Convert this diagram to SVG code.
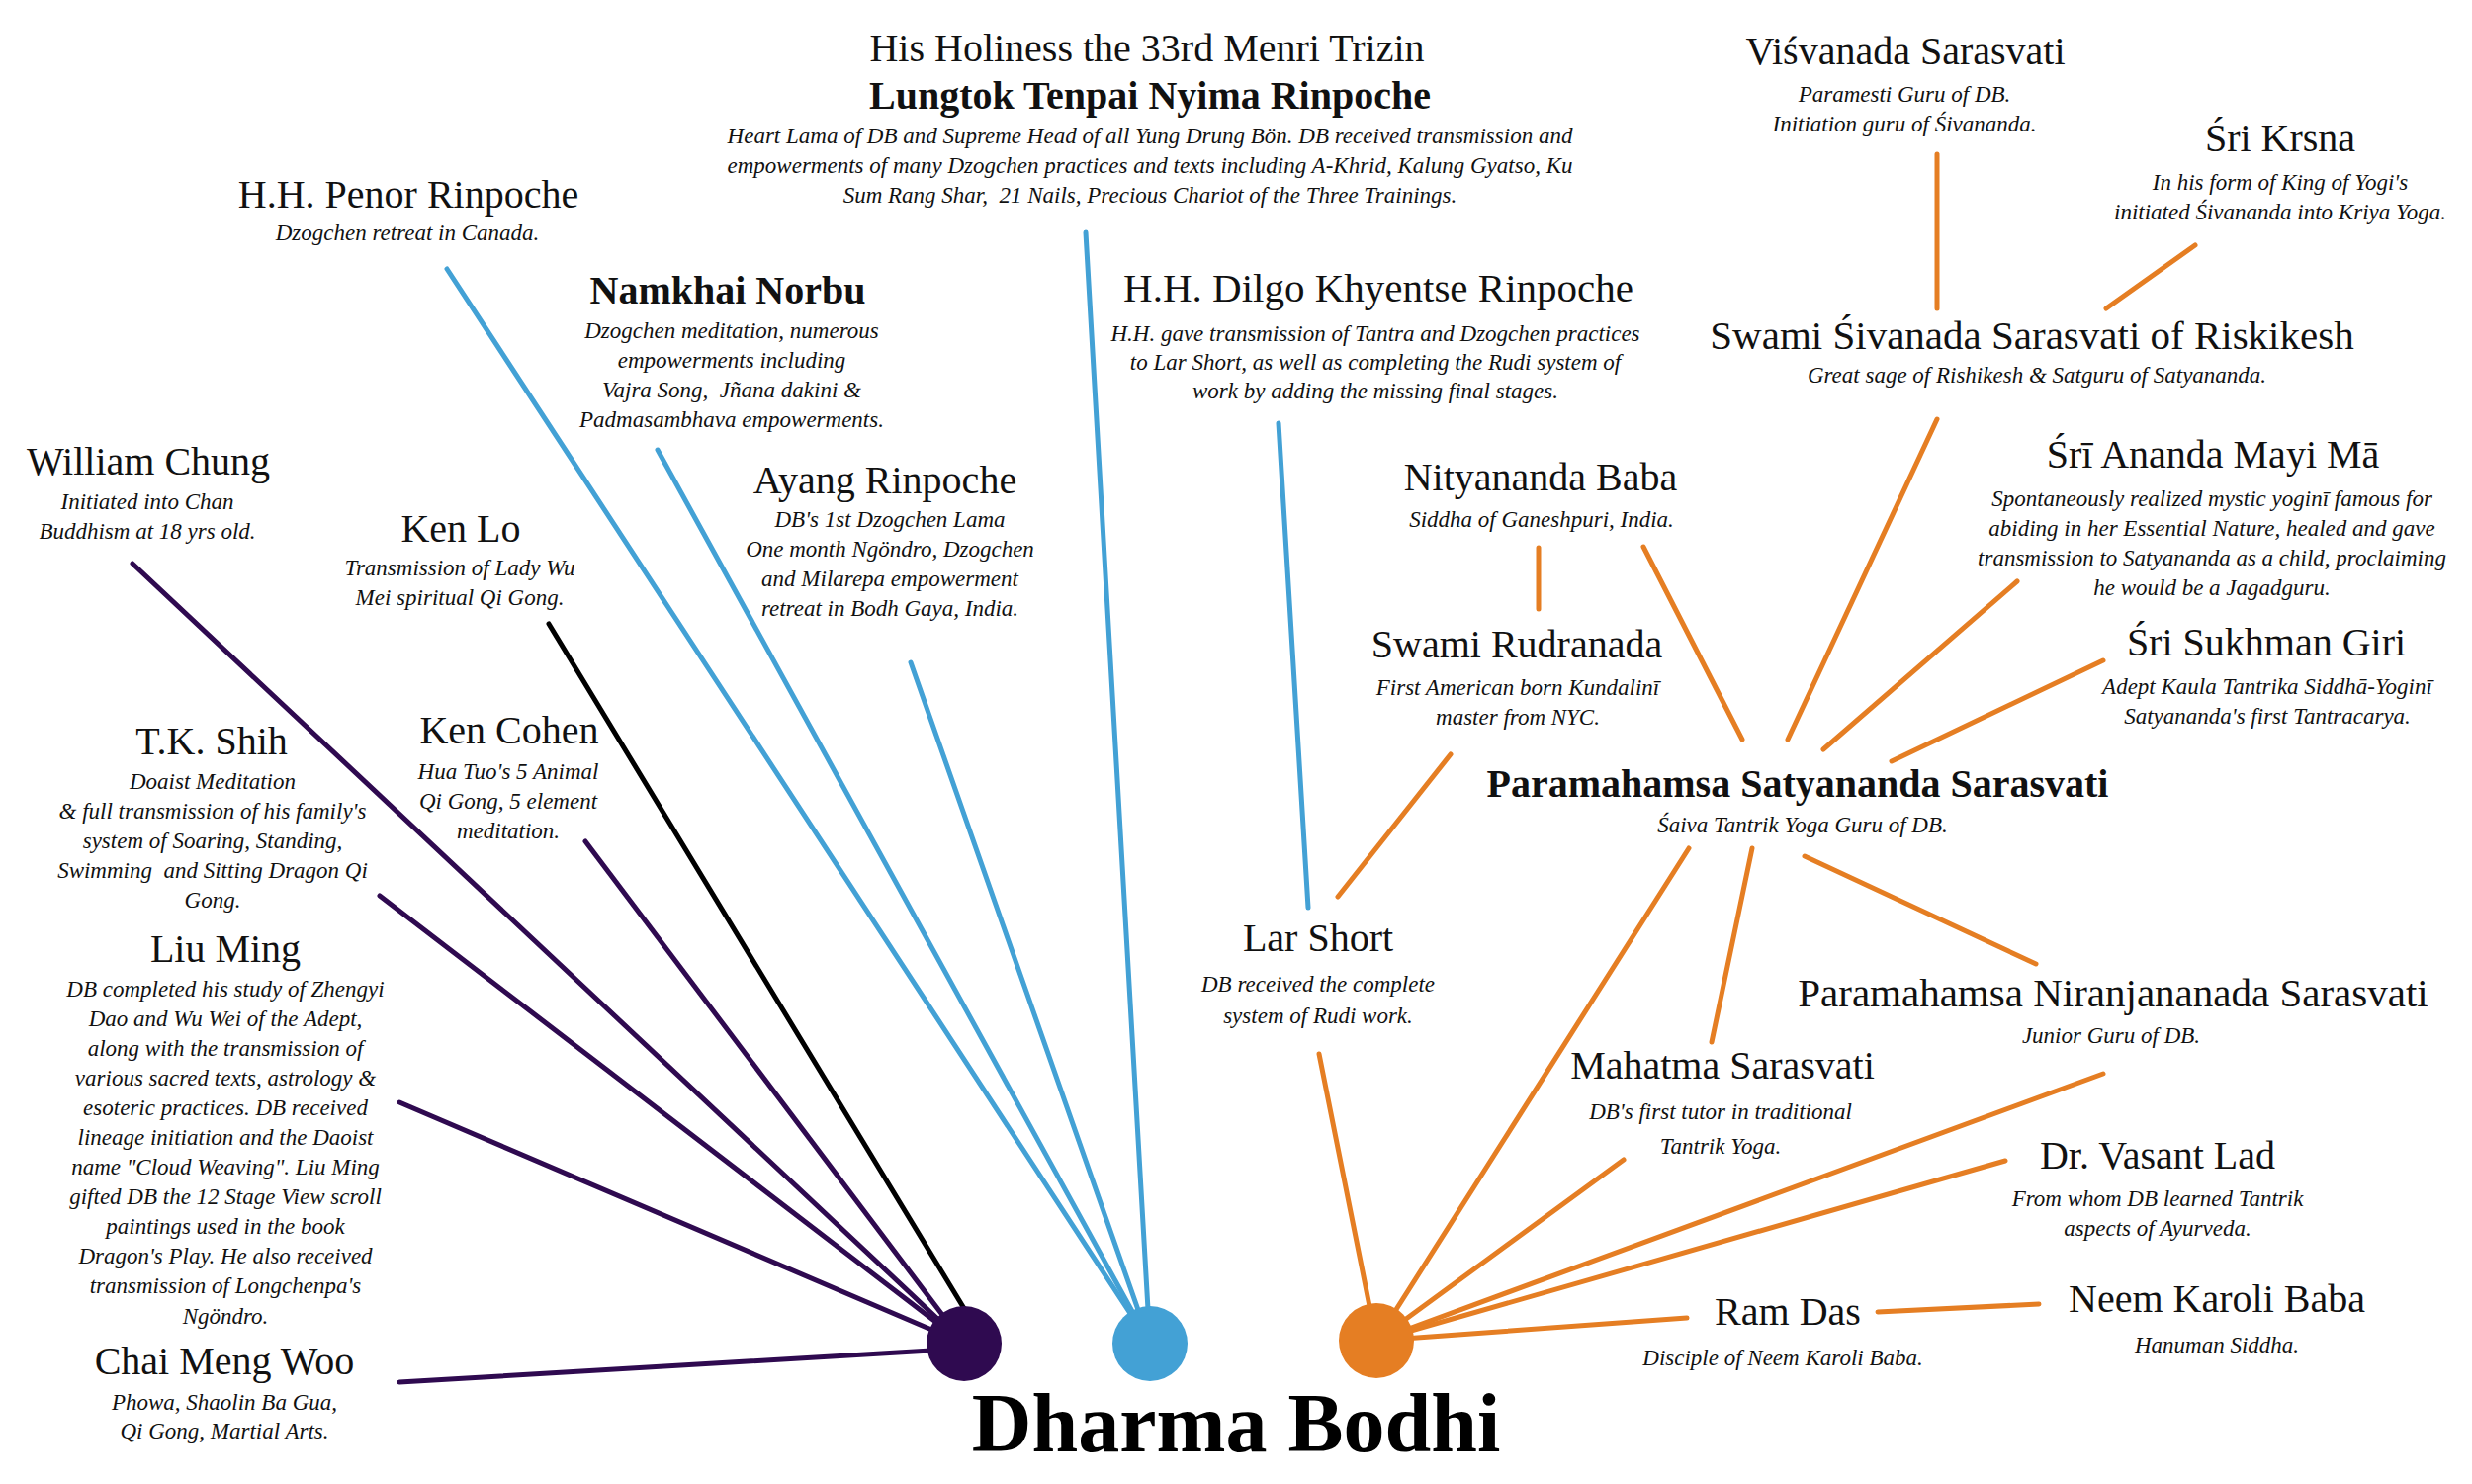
<svg xmlns="http://www.w3.org/2000/svg" width="2500" height="1501" viewBox="0 0 2500 1501">
<style>
text{font-family:"Liberation Serif","Times New Roman",serif;fill:#111;text-anchor:middle}
.t{font-size:40px}
.tb{font-size:40px;font-weight:bold}
.d{font-size:23px;font-style:italic}
.main{font-size:84px;font-weight:bold;fill:#000}
.c line{stroke-width:5;stroke-linecap:round;fill:none}
.p{stroke:#2f0a50}
.k{stroke:#000}
.b{stroke:#43a1d5}
.o{stroke:#e57e23}
</style>
<rect width="2500" height="1501" fill="#fff"/>
<g id="connectors" class="c">
<line class="p" x1="134" y1="570" x2="975" y2="1359"/>
<line class="k" x1="555" y1="631" x2="982" y2="1335"/>
<line class="p" x1="384" y1="906" x2="975" y2="1359"/>
<line class="p" x1="592" y1="851" x2="975" y2="1359"/>
<line class="p" x1="404" y1="1115" x2="975" y2="1359"/>
<line class="p" x1="404" y1="1398" x2="975" y2="1364"/>
<line class="b" x1="452" y1="272" x2="1163" y2="1359"/>
<line class="b" x1="665" y1="455" x2="1163" y2="1359"/>
<line class="b" x1="921" y1="670" x2="1163" y2="1359"/>
<line class="b" x1="1098" y1="235" x2="1163" y2="1359"/>
<line class="b" x1="1293" y1="428" x2="1323" y2="918"/>
<line class="o" x1="1467" y1="763" x2="1353" y2="907"/>
<line class="o" x1="1334" y1="1066" x2="1392" y2="1356"/>
<line class="o" x1="1556" y1="554" x2="1556" y2="616"/>
<line class="o" x1="1662" y1="553" x2="1762" y2="748"/>
<line class="o" x1="1959" y1="424" x2="1808" y2="748"/>
<line class="o" x1="2040" y1="588" x2="1844" y2="758"/>
<line class="o" x1="2127" y1="668" x2="1913" y2="770"/>
<line class="o" x1="1825" y1="866" x2="2059" y2="975"/>
<line class="o" x1="1772" y1="858" x2="1731" y2="1054"/>
<line class="o" x1="1708" y1="858" x2="1392" y2="1356"/>
<line class="o" x1="1959" y1="156" x2="1959" y2="312"/>
<line class="o" x1="2220" y1="248" x2="2130" y2="312"/>
<line class="o" x1="1642" y1="1173" x2="1392" y2="1356"/>
<line class="o" x1="2127" y1="1086" x2="1392" y2="1356"/>
<line class="o" x1="2028" y1="1174" x2="1392" y2="1356"/>
<line class="o" x1="1706" y1="1333" x2="1392" y2="1356"/>
<line class="o" x1="1899" y1="1327" x2="2062" y2="1319"/>
</g>
<g id="hubs">
<circle cx="975" cy="1359" r="38" fill="#2f0a50"/>
<circle cx="1163" cy="1359" r="38" fill="#43a1d5"/>
<circle cx="1392" cy="1356" r="38" fill="#e57e23"/>
</g>
<g id="dharma-bodhi"><text class="main" x="1250" y="1468">Dharma Bodhi</text></g>
<g id="penor"><text class="t" x="413" y="210">H.H. Penor Rinpoche</text><text class="d" x="412" y="243">Dzogchen retreat in Canada.</text></g>
<g id="william-chung"><text class="t" x="150" y="480">William Chung</text><text class="d" x="149"><tspan x="149" y="515">Initiated into Chan</tspan><tspan x="149" y="545">Buddhism at 18 yrs old.</tspan></text></g>
<g id="ken-lo"><text class="t" x="466" y="548">Ken Lo</text><text class="d"><tspan x="465" y="582">Transmission of Lady Wu</tspan><tspan x="465" y="612">Mei spiritual Qi Gong.</tspan></text></g>
<g id="tk-shih"><text class="t" x="214" y="763">T.K. Shih</text><text class="d"><tspan x="215" y="798">Doaist Meditation</tspan><tspan x="215" y="828">&amp; full transmission of his family's</tspan><tspan x="215" y="858">system of Soaring, Standing,</tspan><tspan x="215" y="888" xml:space="preserve">Swimming  and Sitting Dragon Qi</tspan><tspan x="215" y="918">Gong.</tspan></text></g>
<g id="ken-cohen"><text class="t" x="515" y="752">Ken Cohen</text><text class="d"><tspan x="514" y="788">Hua Tuo's 5 Animal</tspan><tspan x="514" y="818">Qi Gong, 5 element</tspan><tspan x="514" y="848">meditation.</tspan></text></g>
<g id="liu-ming"><text class="t" x="228" y="973">Liu Ming</text><text class="d"><tspan x="228" y="1008">DB completed his study of Zhengyi</tspan><tspan x="228" y="1038">Dao and Wu Wei of the Adept,</tspan><tspan x="228" y="1068">along with the transmission of</tspan><tspan x="228" y="1098">various sacred texts, astrology &amp;</tspan><tspan x="228" y="1128">esoteric practices. DB received</tspan><tspan x="228" y="1158">lineage initiation and the Daoist</tspan><tspan x="228" y="1188">name "Cloud Weaving". Liu Ming</tspan><tspan x="228" y="1218">gifted DB the 12 Stage View scroll</tspan><tspan x="228" y="1248">paintings used in the book</tspan><tspan x="228" y="1278">Dragon's Play. He also received</tspan><tspan x="228" y="1308">transmission of Longchenpa's</tspan><tspan x="228" y="1339">Ngöndro.</tspan></text></g>
<g id="chai-meng-woo"><text class="t" x="227" y="1390">Chai Meng Woo</text><text class="d"><tspan x="227" y="1426">Phowa, Shaolin Ba Gua,</tspan><tspan x="227" y="1455">Qi Gong, Martial Arts.</tspan></text></g>
<g id="menri-trizin"><text class="t" x="1160" y="62">His Holiness the 33rd Menri Trizin</text><text class="tb" x="1163" y="110">Lungtok Tenpai Nyima Rinpoche</text><text class="d"><tspan x="1163" y="145">Heart Lama of DB and Supreme Head of all Yung Drung Bön. DB received transmission and</tspan><tspan x="1163" y="175">empowerments of many Dzogchen practices and texts including A-Khrid, Kalung Gyatso, Ku</tspan><tspan x="1163" y="205" xml:space="preserve">Sum Rang Shar,  21 Nails, Precious Chariot of the Three Trainings.</tspan></text></g>
<g id="namkhai-norbu"><text class="tb" x="736" y="307">Namkhai Norbu</text><text class="d"><tspan x="740" y="342">Dzogchen meditation, numerous</tspan><tspan x="740" y="372">empowerments including</tspan><tspan x="740" y="402" xml:space="preserve">Vajra Song,  Jñana dakini &amp;</tspan><tspan x="740" y="432">Padmasambhava empowerments.</tspan></text></g>
<g id="ayang"><text class="t" x="895" y="499">Ayang Rinpoche</text><text class="d"><tspan x="900" y="533">DB's 1st Dzogchen Lama</tspan><tspan x="900" y="563">One month Ngöndro, Dzogchen</tspan><tspan x="900" y="593">and Milarepa empowerment</tspan><tspan x="900" y="623">retreat in Bodh Gaya, India.</tspan></text></g>
<g id="dilgo"><text class="t" x="1394" y="305" style="font-size:41px">H.H. Dilgo Khyentse Rinpoche</text><text class="d"><tspan x="1391" y="345">H.H. gave transmission of Tantra and Dzogchen practices</tspan><tspan x="1391" y="374">to Lar Short, as well as completing the Rudi system of</tspan><tspan x="1391" y="403">work by adding the missing final stages.</tspan></text></g>
<g id="lar-short"><text class="t" x="1333" y="962">Lar Short</text><text class="d"><tspan x="1333" y="1003">DB received the complete</tspan><tspan x="1333" y="1035">system of Rudi work.</tspan></text></g>
<g id="visvanada"><text class="t" x="1927" y="65">Viśvanada Sarasvati</text><text class="d"><tspan x="1926" y="103">Paramesti Guru of DB.</tspan><tspan x="1926" y="133">Initiation guru of Śivananda.</tspan></text></g>
<g id="sri-krsna"><text class="t" x="2306" y="153">Śri Krsna</text><text class="d"><tspan x="2306" y="192">In his form of King of Yogi's</tspan><tspan x="2306" y="222">initiated Śivananda into Kriya Yoga.</tspan></text></g>
<g id="sivananda"><text class="t" x="2055" y="353" style="font-size:41px">Swami Śivanada Sarasvati of Riskikesh</text><text class="d" x="2060" y="387">Great sage of Rishikesh &amp; Satguru of Satyananda.</text></g>
<g id="nityananda"><text class="t" x="1558" y="496">Nityananda Baba</text><text class="d" x="1559" y="533">Siddha of Ganeshpuri, India.</text></g>
<g id="ananda-mayi-ma"><text class="t" x="2238" y="473">Śrī Ananda Mayi Mā</text><text class="d"><tspan x="2237" y="512">Spontaneously realized mystic yoginī famous for</tspan><tspan x="2237" y="542">abiding in her Essential Nature, healed and gave</tspan><tspan x="2237" y="572">transmission to Satyananda as a child, proclaiming</tspan><tspan x="2237" y="602">he would be a Jagadguru.</tspan></text></g>
<g id="rudranada"><text class="t" x="1534" y="665">Swami Rudranada</text><text class="d"><tspan x="1535" y="703">First American born Kundalinī</tspan><tspan x="1535" y="733">master from NYC.</tspan></text></g>
<g id="sukhman-giri"><text class="t" x="2292" y="663">Śri Sukhman Giri</text><text class="d"><tspan x="2293" y="702">Adept Kaula Tantrika Siddhā-Yoginī</tspan><tspan x="2293" y="732">Satyananda's first Tantracarya.</tspan></text></g>
<g id="satyananda"><text class="tb" x="1818" y="806">Paramahamsa Satyananda Sarasvati</text><text class="d" x="1823" y="842">Śaiva Tantrik Yoga Guru of DB.</text></g>
<g id="niranjananada"><text class="t" x="2137" y="1018" style="font-size:41px">Paramahamsa Niranjananada Sarasvati</text><text class="d" x="2135" y="1055">Junior Guru of DB.</text></g>
<g id="mahatma"><text class="t" x="1742" y="1091">Mahatma Sarasvati</text><text class="d"><tspan x="1740" y="1132">DB's first tutor in traditional</tspan><tspan x="1740" y="1167">Tantrik Yoga.</tspan></text></g>
<g id="vasant-lad"><text class="t" x="2182" y="1182">Dr. Vasant Lad</text><text class="d"><tspan x="2182" y="1220">From whom DB learned Tantrik</tspan><tspan x="2182" y="1250">aspects of Ayurveda.</tspan></text></g>
<g id="ram-das"><text class="t" x="1808" y="1340">Ram Das</text><text class="d" x="1803" y="1381">Disciple of Neem Karoli Baba.</text></g>
<g id="neem-karoli"><text class="t" x="2242" y="1327">Neem Karoli Baba</text><text class="d" x="2242" y="1368">Hanuman Siddha.</text></g>
</svg>
